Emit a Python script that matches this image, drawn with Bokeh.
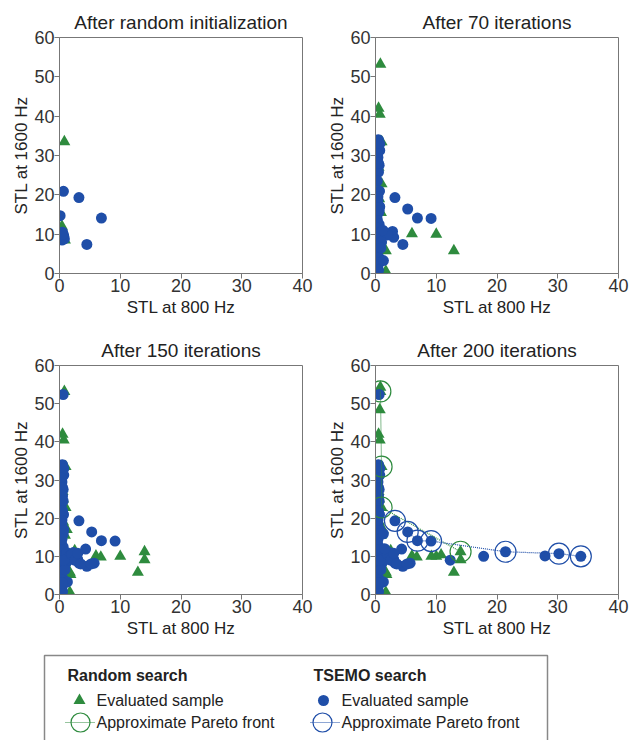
from bokeh.plotting import figure
from bokeh.layouts import column, row
from bokeh.models import Range1d, FixedTicker
from bokeh.embed import file_html
from bokeh.resources import INLINE
from bokeh.core.properties import value

GREEN = "#2e8b3e"
BLUE = "#1f4ea8"
FONT = "Liberation Sans"

# ---------------- data (cumulative stages) ----------------
titles = ["After random initialization", "After 70 iterations",
          "After 150 iterations", "After 200 iterations"]
x_ticks = [0, 10, 20, 30, 40]
y_ticks = [0, 10, 20, 30, 40, 50, 60]
x_label = "STL at 800 Hz"
y_label = "STL at 1600 Hz"

# Random search samples added at each stage
rand_init_x = [0.8, 0.4, 0.6, 0.9]
rand_init_y = [33.5, 12.0, 10.5, 8.5]
rand_70_x = [0.8, 0.5, 0.7, 1.0, 1.0, 0.9, 6.0, 10.0, 12.9, 1.7, 1.7, 0.5, 0.6]
rand_70_y = [53.2, 42.0, 40.5, 33.5, 22.8, 15.5, 10.1, 10.0, 5.8, 5.8, 0.6, 27.0, 19.0]
rand_150_x = [14.0, 14.0, 6.8, 2.5, 0.6, 1.8, 1.2]
rand_150_y = [11.2, 9.1, 9.8, 11.5, 25.0, 5.2, 17.0]
rand_200_x = [0.8, 0.7, 9.2, 10.8]
rand_200_y = [54.3, 48.4, 10.0, 10.4]

# TSEMO samples added at each stage
tsemo_init_x = [0.65, 3.2, 0.1, 6.9, 4.5, 0.5, 0.7, 0.4, 0.8, 0.6]
tsemo_init_y = [20.9, 19.3, 14.7, 14.1, 7.4, 10.5, 9.5, 8.5, 8.8, 10.0]
tsemo_70_x = [0.5, 0.7, 0.4, 0.6, 0.5, 0.3, 0.6, 0.4, 0.7, 0.5, 0.3, 0.6,
              0.4, 0.8, 0.5, 0.3, 0.6, 0.4, 0.5, 0.7, 0.3, 0.5, 0.4, 0.6,
              5.3, 9.15, 2.8, 3.0, 1.3, 1.5, 2.0, 1.2, 1.0, 0.9]
tsemo_70_y = [34.0, 31.3, 29.5, 27.5, 25.8, 23.5, 21.0, 18.5, 17.0, 15.5, 13.7, 12.5,
              11.5, 10.3, 7.0, 5.5, 4.0, 1.9, 0.8, 33.0, 30.5, 28.0, 19.5, 16.0,
              16.4, 14.0, 10.7, 9.2, 3.3, 10.5, 9.8, 11.0, 8.0, 6.5]
tsemo_150_x = [0.6, 4.3, 5.7, 3.2, 2.7, 1.8, 2.3, 1.5, 0.4, 0.6, 0.5, 0.4, 0.7,
               0.5, 2.0, 2.5, 3.5, 3.0, 5.2]
tsemo_150_y = [52.4, 11.9, 8.2, 8.2, 9.3, 10.2, 11.0, 9.0, 26.0, 24.5, 22.0, 14.5, 9.0,
               3.0, 10.5, 9.0, 8.0, 10.8, 8.0]
tsemo_200_x = [21.4, 30.2, 33.8, 17.8, 27.9, 12.3, 1.3, 1.5]
tsemo_200_y = [11.2, 10.7, 10.0, 10.0, 10.1, 9.0, 15.9, 12.0]

# Approximate Pareto fronts after 200 iterations
rand_front_x = [0.8, 1.0, 1.0, 14.0]
rand_front_y = [53.2, 33.5, 22.8, 11.2]
tsemo_front_x = [3.2, 5.3, 6.9, 9.15, 21.4, 30.2, 33.8]
tsemo_front_y = [19.3, 16.4, 14.1, 14.0, 11.2, 10.7, 10.0]

rand_stages = [(rand_init_x, rand_init_y), (rand_70_x, rand_70_y),
               (rand_150_x, rand_150_y), (rand_200_x, rand_200_y)]
tsemo_stages = [(tsemo_init_x, tsemo_init_y), (tsemo_70_x, tsemo_70_y),
                (tsemo_150_x, tsemo_150_y), (tsemo_200_x, tsemo_200_y)]


def cumulative(stages, k):
    xs, ys = [], []
    for sx, sy in stages[:k + 1]:
        xs += sx
        ys += sy
    return xs, ys


def make_panel(k, width, height, left, right, top, bottom):
    p = figure(width=width, height=height, x_range=Range1d(0, 40), y_range=Range1d(0, 60),
               output_backend="svg", toolbar_location=None, title=titles[k],
               min_border_left=left, min_border_right=right,
               min_border_top=top, min_border_bottom=bottom)
    p.title.text_font = FONT
    p.title.text_font_size = "19px"
    p.title.text_font_style = "normal"
    p.title.text_color = "#222222"
    p.title.align = "center"
    p.title.standoff = 10
    p.grid.visible = False
    p.outline_line_color = "#777777"
    p.outline_line_width = 1
    p.xaxis.ticker = FixedTicker(ticks=x_ticks)
    p.yaxis.ticker = FixedTicker(ticks=y_ticks)
    p.xaxis.axis_label = x_label
    p.yaxis.axis_label = y_label
    for ax in (p.xaxis[0], p.yaxis[0]):
        ax.axis_line_color = "#777777"
        ax.major_tick_line_color = "#777777"
        ax.major_tick_out = 5
        ax.major_tick_in = 0
        ax.minor_tick_line_color = None
        ax.major_label_text_font = FONT
        ax.major_label_text_font_size = "18px"
        ax.major_label_text_color = "#333333"
        ax.major_label_standoff = 0
        ax.axis_label_text_font = FONT
        ax.axis_label_text_font_size = "17px"
        ax.axis_label_text_font_style = "normal"
        ax.axis_label_text_color = "#222222"
    p.xaxis[0].axis_label_standoff = 3
    p.yaxis[0].axis_label_standoff = 0

    rx, ry = cumulative(rand_stages, k)
    tx, ty = cumulative(tsemo_stages, k)
    p.scatter(rx, ry, marker="triangle", size=12, fill_color=GREEN, line_color=None)
    p.scatter(tx, ty, marker="circle", size=11, fill_color=BLUE, line_color=None)
    if k == 3:
        p.line(rand_front_x, rand_front_y, line_color=GREEN, line_dash="1 1", line_width=1.2)
        p.scatter(rand_front_x, rand_front_y, marker="circle", size=21, fill_color=None,
                  line_color=GREEN, line_width=1.2)
        p.line(tsemo_front_x, tsemo_front_y, line_color=BLUE, line_dash="1 1", line_width=1.2)
        p.scatter(tsemo_front_x, tsemo_front_y, marker="circle", size=21, fill_color=None,
                  line_color=BLUE, line_width=1.2)
    return p


p1 = make_panel(0, 316, 332, 59, 14, 37, 59)
p2 = make_panel(1, 320, 332, 59, 18, 37, 59)
p3 = make_panel(2, 316, 308, 59, 14, 29, 42)
p4 = make_panel(3, 320, 308, 59, 18, 29, 42)

# ---------------- legend panel ----------------
LW, LH = 636, 100
lg = figure(width=LW, height=LH, x_range=Range1d(0, LW), y_range=Range1d(LH, 0),
            output_backend="svg", toolbar_location=None, min_border=0)
lg.axis.visible = False
lg.grid.visible = False
lg.outline_line_color = None
lg.line([44, 44, 547, 547], [LH + 2, 15, 15, LH + 2], line_color="#888888", line_width=1.5)

lg.text([67, 313], [35, 35], text=["Random search", "TSEMO search"], text_font=value(FONT),
        text_font_size="16px", text_font_style="bold", text_color="#222222",
        text_baseline="middle")
lg.text([96, 341, 96, 341], [60, 60, 82, 82],
        text=["Evaluated sample", "Evaluated sample", "Approximate Pareto front",
              "Approximate Pareto front"],
        text_font=value(FONT), text_font_size="16px", text_color="#222222",
        text_baseline="middle")
lg.scatter([79], [60], marker="triangle", size=12, fill_color=GREEN, line_color=None)
lg.scatter([323], [60], marker="circle", size=11, fill_color=BLUE, line_color=None)
lg.line([65, 94], [82, 82], line_color=GREEN, line_dash="1 1", line_width=1.2)
lg.scatter([80], [82], marker="circle", size=19, fill_color=None, line_color=GREEN, line_width=1.2)
lg.line([310, 339], [82, 82], line_color=BLUE, line_dash="1 1", line_width=1.2)
lg.scatter([322], [82], marker="circle", size=19, fill_color=None, line_color=BLUE, line_width=1.2)

layout = column(row(p1, p2), row(p3, p4), lg)
open("out.html", "w").write(file_html(layout, INLINE))
